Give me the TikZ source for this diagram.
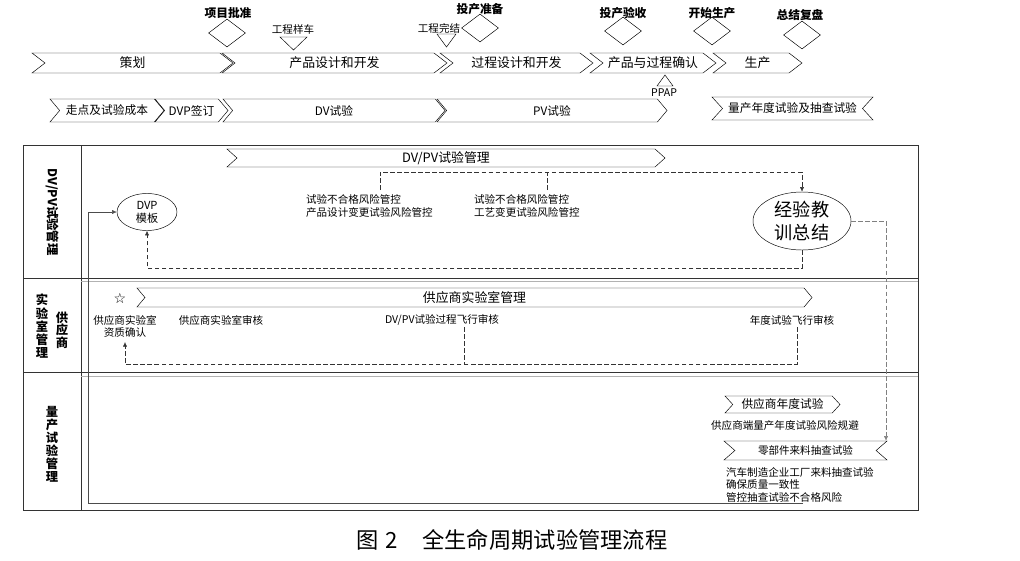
\documentclass[tikz,border=0pt]{standalone}
\usepackage{fontspec}
\setmainfont{Noto Sans CJK SC}
\newfontfamily\symbolfont{DejaVu Sans}
\usetikzlibrary{shapes.symbols,shapes.geometric,arrows.meta,calc}

\begin{document}
\begin{tikzpicture}[x=0.03cm,y=-0.03cm,
  chev/.style={signal,draw,signal from=west,signal to=east,inner sep=0pt,signal pointer angle=#1},
  chev/.default=90,
  notched/.style={signal,draw,signal from=west and east,signal to=nowhere,inner sep=0pt,signal pointer angle=#1},
  notched/.default=85,
  mile/.style={diamond,draw,minimum width=1.11cm,minimum height=0.84cm,inner sep=0pt},
  mtext/.style={font=\fontsize{10}{11}\selectfont\bfseries},
  small/.style={font=\fontsize{9}{10.7}\selectfont},
  big/.style={font=\fontsize{11}{12}\selectfont},
  lane/.style={font=\fontsize{10.5}{11.3}\selectfont\bfseries,align=center},
  dashline/.style={dash pattern=on 4pt off 2pt},
  feed/.style={dash pattern=on 4pt off 2pt,-{Latex[length=4pt,width=3.5pt]}},
]
\useasboundingbox (0,0) rectangle (1020,560);

% Phases
\foreach \cx/\w/\t/\n in {132.5/6.03/策划/plan,334.5/6.75/产品设计和开发/pdd,516.5/4.59/过程设计和开发/prd,653/3.78/产品与过程确认/ppv,757.5/2.67/生产/prod}
    \node[chev=75,big,minimum width=\w cm,minimum height=0.6cm] (\n) at (\cx,63) {\t};

% Tests
\foreach \cx/\w/\t/\n in {107/3.42/走点及试验成本/cost,191.5/2.19/DVP签订/sign,334/6.66/DV试验/dv,552/6.9/PV试验/pv}
    \node[chev=100,font=\fontsize{10}{11}\selectfont,minimum width=\w cm,minimum height=0.69cm] (\n) at (\cx,110.5) {\t};
\node[notched=95,font=\fontsize{10}{11}\selectfont,minimum width=4.83cm,minimum height=0.69cm] (annual) at (792.5,108.5) {量产年度试验及抽查试验};

% Milestones
\node[mile] (approve) at (227,33) {};
\node[mtext] (approvet) at (228,13) {项目批准};
\node[mile] (ready) at (480,28) {};
\node[mtext] (readyt) at (480,9) {投产准备};
\node[mile] (accept) at (623,31) {};
\node[mtext] (acceptt) at (623,13) {投产验收};
\node[mile] (start) at (712,31) {};
\node[mtext] (startt) at (712,13) {开始生产};
\node[mile] (review) at (802,35) {};
\node[mtext] (reviewt) at (800,15) {总结复盘};
\draw (280,37) -- (307,37) -- (293.5,50) -- cycle;
\node[small] (proto) at (293,29) {工程样车};
\draw (437,34) -- (456,34) -- (446.5,47) -- cycle;
\node[small] (engend) at (439,28) {工程完结};
\draw (657,86) -- (673,86) -- (665,75) -- cycle;
\node[small] (ppap) at (664,93) {PPAP};

% Lanes
\draw[line width=0.8pt,black!80] (23,145) rectangle (918,510);
\draw[line width=0.8pt,black!80] (81,145) -- (81,510);
\draw[line width=0.8pt,black!80] (23,278) -- (918,278);
\draw[line width=0.8pt,black!80] (23,372) -- (918,372);
\draw[gray!60] (81,281) -- (918,281);
\draw[gray!60] (81,376) -- (918,376);
\node[lane,rotate=-90] (lane1) at (52,212) {DV/PV试验管理};
\node[lane,font=\fontsize{10.5}{10.7}\selectfont\bfseries] (lane2a) at (62,330) {供\\应\\商};
\node[lane] (lane2b) at (42,326.5) {实\\验\\室\\管\\理};
\node[lane,font=\fontsize{10.5}{11.1}\selectfont\bfseries] (lane3) at (52,444.5) {量\\产\\试\\验\\管\\理};

% DV/PV test management
\node[chev=84,big,minimum width=13.14cm,minimum height=0.54cm] (dvpv) at (446,158) {DV/PV试验管理};
\node[ellipse,draw,minimum width=1.8cm,minimum height=1.11cm,inner sep=0pt,align=center,font=\fontsize{9.5}{11}\selectfont] (dvp) at (147,212) {DVP\\模板};
\node[ellipse,draw,minimum width=2.94cm,minimum height=1.74cm,inner sep=0pt,align=center,font=\fontsize{15.5}{19.5}\selectfont] (lesson) at (802,221) {经验教\\训总结};
\node[small,anchor=west,align=left] (risk1) at (302,206) {试验不合格风险管控\\产品设计变更试验风险管控};
\node[small,anchor=west,align=left] (risk2) at (470,206) {试验不合格风险管控\\工艺变更试验风险管控};
\coordinate (r1) at (380,190);
\coordinate (r2) at (547,190);
\draw[feed,black!80] (r1) -- ++(0,-18) -| (lesson.north);
\draw[dashline,black!80] (r2) -- ++(0,-18);
\draw[feed,black!80] (lesson.south) -- ++(0,18) -| (dvp.south);

% Supplier lab management
\node[font=\symbolfont\fontsize{12}{12}\selectfont] (star) at (120,298) {☆};
\node[chev=100,big,minimum width=20.25cm,minimum height=0.57cm] (lab) at (474.5,297.5) {供应商实验室管理};
\node[small,align=center,font=\fontsize{9}{11}\selectfont] (qual) at (125,326.5) {供应商实验室\\资质确认};
\node[small] (aud1) at (221,320) {供应商实验室审核};
\node[small] (aud2) at (442,320) {DV/PV试验过程飞行审核};
\node[small] (aud3) at (792,320) {年度试验飞行审核};
\coordinate (a2) at (464,327);
\coordinate (a3) at (797,327);
\draw[feed,black!80] (a3) -- ++(0,37) -| (qual.south);
\draw[dashline,black!80] (a2) -- ++(0,37);

% Mass production tests
\node[chev=95,font=\fontsize{10}{11}\selectfont,minimum width=3.45cm,minimum height=0.51cm] (sup) at (782.5,404.5) {供应商年度试验};
\node[small] (supr) at (785,425) {供应商端量产年度试验风险规避};
\node[notched=82,small,minimum width=4.89cm,minimum height=0.57cm] (part) at (805.5,450.5) {零部件来料抽查试验};
\node[small,anchor=north west,align=left,font=\fontsize{9}{11}\selectfont] (partr) at (722,463) {汽车制造企业工厂来料抽查试验\\确保质量一致性\\管控抽查试验不合格风险};
\draw[feed,gray] (lesson.east) -| ($(part.north)+(80.5,0)$);

% Feedback to DVP
\coordinate (fb) at (803,503);
\coordinate (fbc) at (88,503);
\draw[black!70,-{Latex[length=4pt,width=3.5pt]}] (fb) -- (fbc) |- (dvp.west);

\node[font=\fontsize{19}{20}\selectfont] (cap) at (512,540) {图\hspace{0.3em}2\hspace{1.1em}全生命周期试验管理流程};
\end{tikzpicture}
\end{document}
